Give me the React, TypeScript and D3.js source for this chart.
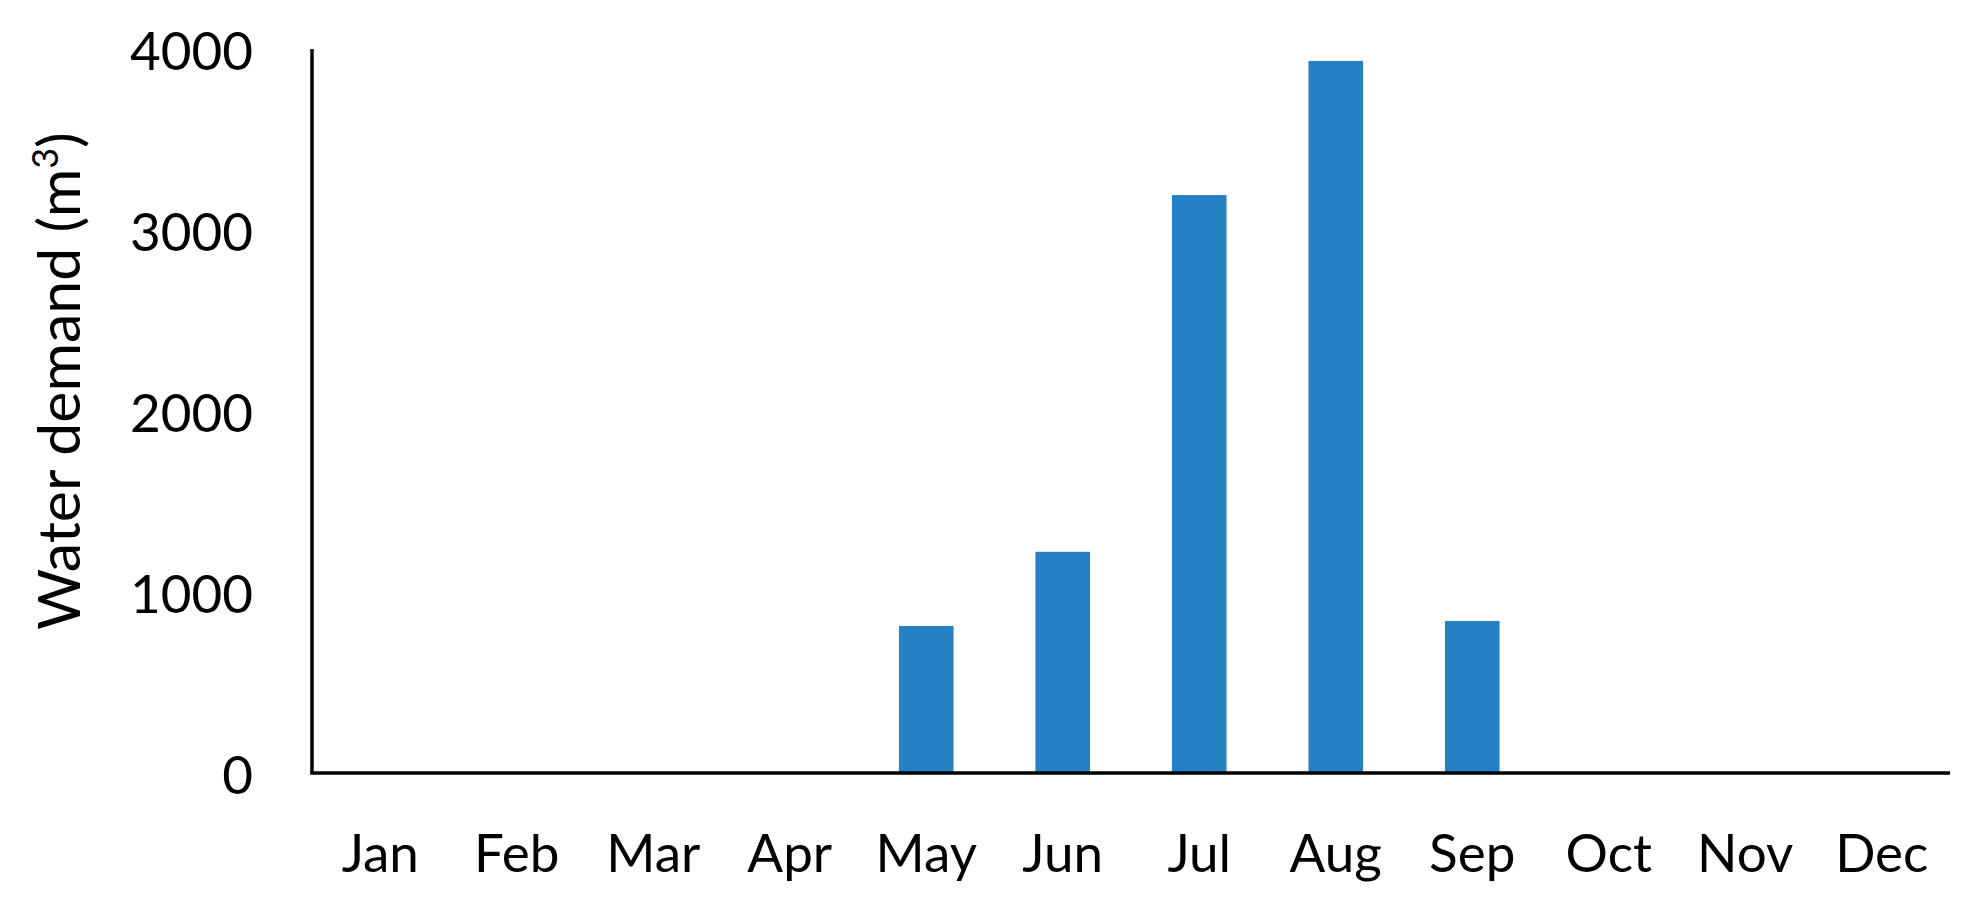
import React from "react";
import * as d3 from "d3";

const months = ["Jan", "Feb", "Mar", "Apr", "May", "Jun", "Jul", "Aug", "Sep", "Oct", "Nov", "Dec"];
const waterDemand = [0, 0, 0, 0, 812, 1222, 3193, 3934, 840, 0, 0, 0];
const yTicks = [0, 1000, 2000, 3000, 4000];
const yTitle = "Water demand (m";
const yTitleSup = "3";

const W = 1968;
const H = 902;
const FONT = "Lato, 'Open Sans', sans-serif";

export default function App() {
  const x = d3.scaleBand<string>().domain(months).range([312, 1950]).paddingInner(0.6).paddingOuter(0.3);
  const y = d3.scaleLinear().domain([0, 4000]).range([773, 49]);
  const [x0, x1] = x.range();

  return (
    <svg width={W} height={H} style={{ position: "absolute", left: 0, top: 0, background: "#fff" }} fontFamily={FONT}>
      <rect x={0} y={0} width={W} height={H} fill="#fff" />
      {months.map((m, i) =>
        waterDemand[i] > 0 ? (
          <rect
            key={m}
            x={x(m)}
            y={y(waterDemand[i])}
            width={x.bandwidth()}
            height={y(0) - y(waterDemand[i])}
            fill="#2581c3"
          />
        ) : null
      )}
      <line x1={x0} x2={x0} y1={y(4000)} y2={y(0)} stroke="#000" strokeWidth={3.5} />
      <line x1={x0 - 1.75} x2={x1} y1={y(0)} y2={y(0)} stroke="#000" strokeWidth={3.5} />
      {yTicks.map((t) => (
        <text key={t} x={253} y={y(t)} textAnchor="end" dominantBaseline="central" fontSize={53} fill="#000">
          {t}
        </text>
      ))}
      {months.map((m) => (
        <text key={m} x={(x(m) as number) + x.bandwidth() / 2} y={872} textAnchor="middle" fontSize={53} fill="#000">
          {m}
        </text>
      ))}
      <text transform={`translate(80, 381) rotate(-90)`} textAnchor="middle" fontSize={59} fill="#000">
        {yTitle}
        <tspan fontSize={36} dy={-22}>{yTitleSup}</tspan>
        <tspan dy={22}>)</tspan>
      </text>
    </svg>
  );
}
